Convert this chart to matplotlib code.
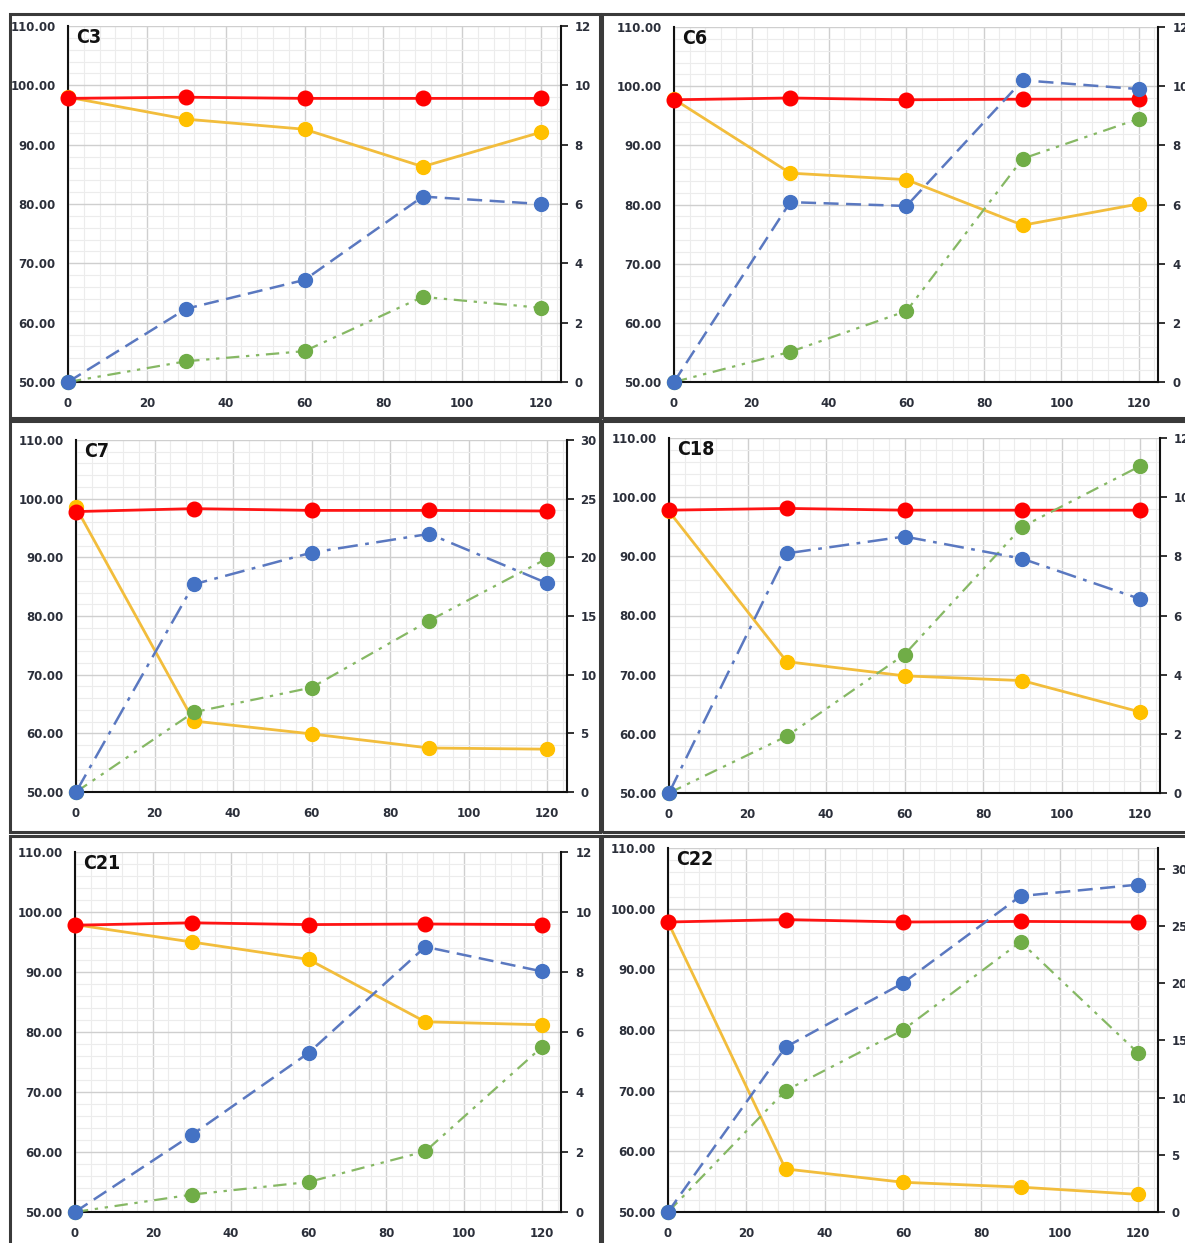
import matplotlib
matplotlib.use("Agg")
import matplotlib.pyplot as plt
from matplotlib.patches import Rectangle
from matplotlib.ticker import MultipleLocator, FixedLocator, FuncFormatter

W, H = 1185, 1243

# sampling times (min)
times = [0, 30, 60, 90, 120]

names = ["C3", "C6", "C7", "C18", "C21", "C22"]

# left axis series
red_series = {
    "C3":  [97.8, 98.0, 97.8, 97.8, 97.8],
    "C6":  [97.7, 98.0, 97.7, 97.8, 97.8],
    "C7":  [97.8, 98.3, 98.0, 98.0, 97.9],
    "C18": [97.8, 98.1, 97.8, 97.8, 97.8],
    "C21": [97.8, 98.2, 97.9, 98.0, 97.9],
    "C22": [97.8, 98.2, 97.8, 97.9, 97.8],
}
orange_series = {
    "C3":  [98.0, 94.3, 92.6, 86.3, 92.1],
    "C6":  [97.8, 85.3, 84.2, 76.5, 80.1],
    "C7":  [98.5, 62.1, 59.9, 57.5, 57.3],
    "C18": [97.6, 72.2, 69.8, 69.0, 63.7],
    "C21": [97.9, 95.0, 92.1, 81.7, 81.2],
    "C22": [97.8, 57.1, 54.9, 54.1, 52.9],
}
# right axis series
blue_series = {
    "C3":  [0, 2.47, 3.44, 6.25, 6.0],
    "C6":  [0, 6.08, 5.95, 10.2, 9.9],
    "C7":  [0, 17.7, 20.4, 22.0, 17.8],
    "C18": [0, 8.1, 8.67, 7.92, 6.56],
    "C21": [0, 2.57, 5.3, 8.84, 8.02],
    "C22": [0, 14.4, 20.0, 27.6, 28.6],
}
green_series = {
    "C3":  [0, 0.7, 1.04, 2.87, 2.5],
    "C6":  [0, 1.02, 2.4, 7.55, 8.9],
    "C7":  [0, 6.8, 8.9, 14.6, 19.9],
    "C18": [0, 1.92, 4.68, 9.0, 11.05],
    "C21": [0, 0.58, 1.0, 2.02, 5.5],
    "C22": [0, 10.6, 15.9, 23.6, 13.9],
}
right_max = {"C3": 12, "C6": 12, "C7": 30, "C18": 12, "C21": 12, "C22": 31.8}
right_step = {"C3": 2, "C6": 2, "C7": 5, "C18": 2, "C21": 2, "C22": 5}

# pixel layout of each chart: x of t=0, x of t=120, y of 110, y of 50
layout = {
    "C3":  (68, 541, 26, 382),
    "C6":  (674, 1139, 27, 382),
    "C7":  (76, 547, 440, 792),
    "C18": (669, 1140, 438, 793),
    "C21": (75, 542, 852, 1212),
    "C22": (668, 1138, 848, 1212),
}
frames = {
    "C3":  (10, 14, 600, 418),
    "C6":  (602, 14, 1195, 418),
    "C7":  (10, 421, 600, 832),
    "C18": (602, 421, 1195, 832),
    "C21": (10, 836, 600, 1255),
    "C22": (602, 836, 1195, 1255),
}
blue_dash = {"C7": (8, 3, 1.5, 3), "C18": (8, 3, 1.5, 3)}

XMAX = 125
tick_font = dict(family="DejaVu Sans", weight="bold", size=8.5)
lab_col = "#2b2f3a"

fig = plt.figure(figsize=(W / 100, H / 100), dpi=100)


def style_labels(labels):
    for lab in labels:
        lab.set_fontfamily(tick_font["family"])
        lab.set_fontweight(tick_font["weight"])
        lab.set_fontsize(tick_font["size"])
        lab.set_color(lab_col)


for n in names:
    x0, x120, y110, y50 = layout[n]
    xr = x0 + (x120 - x0) * XMAX / 120
    ax = fig.add_axes([x0 / W, 1 - y50 / H, (xr - x0) / W, (y50 - y110) / H])
    ax.set_xlim(0, XMAX)
    ax.set_ylim(50, 110)
    ax.xaxis.set_major_locator(FixedLocator([0, 20, 40, 60, 80, 100, 120]))
    ax.xaxis.set_minor_locator(MultipleLocator(4))
    ax.yaxis.set_major_locator(MultipleLocator(10))
    ax.yaxis.set_minor_locator(MultipleLocator(2))
    ax.yaxis.set_major_formatter(FuncFormatter(lambda v, p: f"{v:.2f}"))
    ax.grid(which="major", color="#cfcfcf", lw=1.0)
    ax.grid(which="minor", color="#ececec", lw=0.8)
    ax.set_axisbelow(True)
    ax.tick_params(which="both", length=0)
    ax.tick_params(axis="y", pad=9)
    ax.tick_params(axis="x", pad=11)
    style_labels(ax.get_xticklabels() + ax.get_yticklabels())
    for s in ["top", "right"]:
        ax.spines[s].set_visible(False)
    for s in ["left", "bottom"]:
        ax.spines[s].set_color("#111111")
        ax.spines[s].set_linewidth(1.5)

    ax.plot(times, orange_series[n], color="#f2bd3c", lw=2.0, marker="o", ms=10,
            mfc="#ffc000", mec="#ffc000", clip_on=False, zorder=3)
    ax.plot(times, red_series[n], color="#ff1414", lw=2.0, marker="o", ms=10.5,
            mfc="#ff0000", mec="#ff0000", clip_on=False, zorder=4)

    ax2 = ax.twinx()
    ax2.set_ylim(0, right_max[n])
    ax2.yaxis.set_major_locator(MultipleLocator(right_step[n]))
    ax2.yaxis.set_major_formatter(FuncFormatter(lambda v, p: f"{v:g}"))
    ax2.tick_params(axis="y", direction="out", length=5, width=1.2, pad=5,
                    color="#111111")
    style_labels(ax2.get_yticklabels())
    for s in ["top", "left", "bottom"]:
        ax2.spines[s].set_visible(False)
    ax2.spines["right"].set_color("#111111")
    ax2.spines["right"].set_linewidth(1.5)

    ax2.plot(times, green_series[n], color="#86b864", lw=1.6,
             dashes=(6, 3, 1.5, 3, 1.5, 3), marker="o", ms=10,
             mfc="#70ad47", mec="#70ad47", clip_on=False, zorder=3)
    ax2.plot(times, blue_series[n], color="#5a78c0", lw=1.8,
             dashes=blue_dash.get(n, (6, 3)), marker="o", ms=10,
             mfc="#4472c4", mec="#4472c4", clip_on=False, zorder=4)

    ax.text(0.016, 0.995, n, transform=ax.transAxes, ha="left", va="top",
            fontsize=14, color="#111111", family="DejaVu Sans",
            fontstretch="condensed", fontweight="bold")

    fx0, fy0, fx1, fy1 = frames[n]
    fig.add_artist(Rectangle((fx0 / W, 1 - fy1 / H), (fx1 - fx0) / W,
                             (fy1 - fy0) / H, transform=fig.transFigure,
                             fill=False, ec="#3a3a3a", lw=2.2))

fig.savefig("out.png", dpi=100)
